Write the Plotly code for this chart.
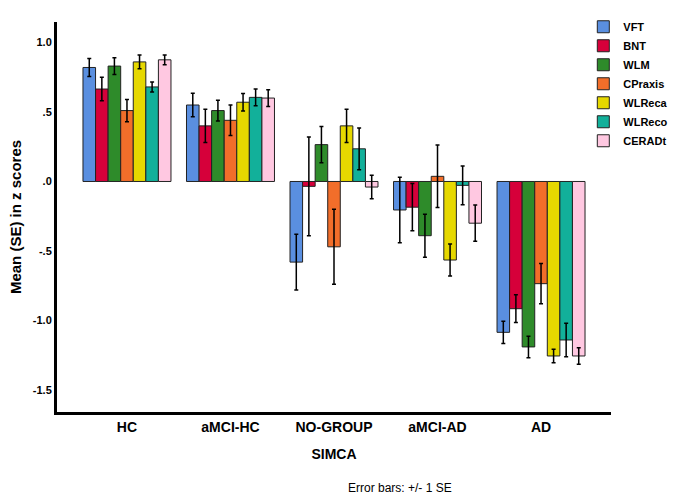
import plotly.graph_objects as go

categories = ["HC", "aMCI-HC", "NO-GROUP", "aMCI-AD", "AD"]
series_names = ["VFT", "BNT", "WLM", "CPraxis", "WLReca", "WLReco", "CERADt"]
colors = ["#5a8fe0", "#d6003a", "#2e8b2a", "#f26e2a", "#e6d800", "#12b09a", "#ffc8e1"]

# mean z scores per series, in category order
VFT = [0.82, 0.55, -0.58, -0.205, -1.085]
BNT = [0.665, 0.40, -0.035, -0.185, -0.915]
WLM = [0.83, 0.51, 0.265, -0.39, -1.19]
CPraxis = [0.51, 0.44, -0.47, 0.037, -0.735]
WLReca = [0.86, 0.57, 0.40, -0.565, -1.255]
WLReco = [0.68, 0.605, 0.235, -0.028, -1.14]
CERADt = [0.875, 0.60, -0.04, -0.30, -1.255]

# standard errors
VFT_se = [0.065, 0.085, 0.20, 0.235, 0.08]
BNT_se = [0.085, 0.12, 0.355, 0.17, 0.10]
WLM_se = [0.06, 0.075, 0.13, 0.155, 0.077]
CPraxis_se = [0.08, 0.11, 0.27, 0.225, 0.145]
WLReca_se = [0.05, 0.063, 0.12, 0.115, 0.048]
WLReco_se = [0.036, 0.06, 0.15, 0.14, 0.12]
CERADt_se = [0.035, 0.06, 0.085, 0.13, 0.06]

means = [VFT, BNT, WLM, CPraxis, WLReca, WLReco, CERADt]
ses = [VFT_se, BNT_se, WLM_se, CPraxis_se, WLReca_se, WLReco_se, CERADt_se]

ytick_vals = [1.0, 0.5, 0.0, -0.5, -1.0, -1.5]
ytick_text = ["1.0", ".5", ".0", "-.5", "-1.0", "-1.5"]

FONT = "Liberation Sans, Arial, sans-serif"

fig = go.Figure()
for name, col, m, s in zip(series_names, colors, means, ses):
    fig.add_trace(go.Bar(
        name=name, x=categories, y=m,
        marker=dict(color=col, line=dict(color="#222222", width=1)),
        error_y=dict(type="data", array=s, visible=True, color="black", thickness=1.5, width=2),
    ))

fig.update_layout(
    width=678, height=498,
    margin=dict(l=57, r=67, t=22, b=86, autoexpand=False),
    paper_bgcolor="white", plot_bgcolor="white",
    barmode="group", bargap=0.15, bargroupgap=0,
    font=dict(family=FONT, color="black"),
    showlegend=True,
    legend=dict(
        x=0.95, xanchor="left", y=1.025, yanchor="top",
        font=dict(family=FONT, size=11, weight="bold", color="black"),
        bgcolor="rgba(0,0,0,0)", tracegroupgap=0, itemwidth=30,
    ),
    xaxis=dict(
        range=[-0.676, 4.676], showline=True, linecolor="black", linewidth=3,
        ticks="", showgrid=False, zeroline=False,
        tickfont=dict(family=FONT, size=14, weight="bold", color="black"),
        title=dict(text="SIMCA", font=dict(family=FONT, size=14, weight="bold", color="black"), standoff=16),
    ),
    yaxis=dict(
        range=[-1.658, 1.147], showline=True, linecolor="black", linewidth=3,
        ticks="", showgrid=False, zeroline=False,
        tickvals=ytick_vals, ticktext=ytick_text,
        tickfont=dict(family=FONT, size=11, weight="bold", color="black"),
        title=dict(text="Mean (SE) in z scores", font=dict(family=FONT, size=15, weight="bold", color="black"), standoff=8),
    ),
    annotations=[dict(
        text="Error bars: +/- 1 SE", xref="paper", yref="paper",
        x=(400 - 57) / 554, y=-(488 - 412) / 390, xanchor="center", yanchor="middle",
        showarrow=False, font=dict(family=FONT, size=12, color="black"),
    )],
)

fig.write_html("out.html")
